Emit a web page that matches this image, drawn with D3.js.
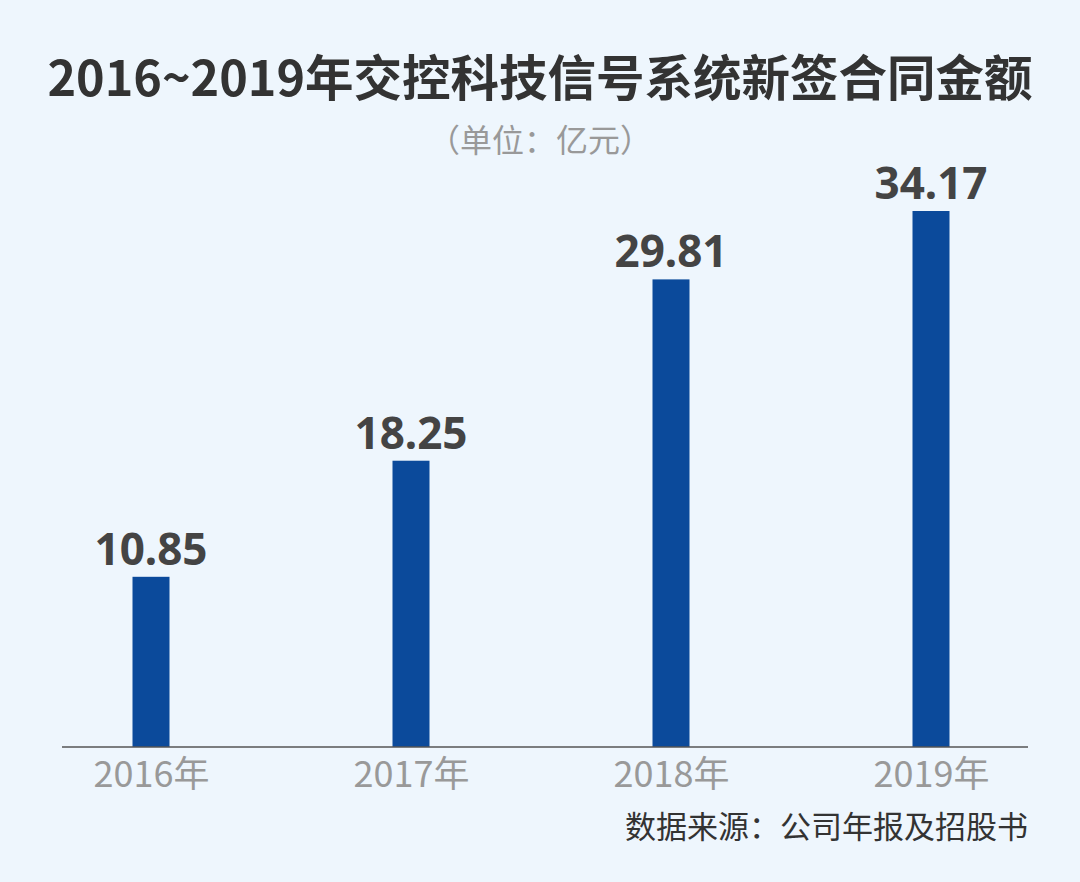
<!DOCTYPE html>
<html><head><meta charset="utf-8">
<script src="https://cdn.jsdelivr.net/npm/d3@7"></script>
<style>body{margin:0;background:#eef6fd;font-family:"Noto Sans CJK SC","Noto Sans",sans-serif}</style>
</head><body><div id="chart"></div>
<script>
var years = ["2016年", "2017年", "2018年", "2019年"];
var values = [10.85, 18.25, 29.81, 34.17];
var labels = ["10.85", "18.25", "29.81", "34.17"];

var svgWidth = 1080, svgHeight = 882;
var svg = d3.select("#chart").append("svg")
    .attr("width", svgWidth).attr("height", svgHeight);
svg.append("rect").attr("width", svgWidth).attr("height", svgHeight).attr("fill", "#eef6fd");

// title
svg.append("text").attr("x", 540).attr("y", 96).attr("text-anchor", "middle")
    .attr("font-size", 48.5).attr("font-weight", "bold").attr("fill", "#333")
    .text("2016~2019年交控科技信号系统新签合同金额");
svg.append("text").attr("x", 540).attr("y", 152).attr("text-anchor", "middle")
    .attr("font-size", 32).attr("fill", "#999")
    .text("（单位：亿元）");

var x = d3.scalePoint().domain(years).range([151, 931]);
var y = d3.scaleLinear().domain([0, 34.17]).range([747, 211]);
var barW = 37;

svg.selectAll(".bar").data(values).enter().append("rect")
    .attr("x", (d, i) => x(years[i]) - barW / 2)
    .attr("y", d => y(d))
    .attr("width", barW)
    .attr("height", d => y(0) - y(d))
    .attr("fill", "#0b4a9b");

svg.selectAll(".val").data(values).enter().append("text")
    .attr("x", (d, i) => x(years[i]))
    .attr("y", d => y(d) - 12)
    .attr("text-anchor", "middle")
    .attr("font-size", 44).attr("font-weight", "bold").attr("fill", "#444")
    .attr("font-family", "'Noto Sans', sans-serif")
    .text((d, i) => labels[i]);

// axis
var axis = svg.append("g").attr("transform", `translate(0, ${y(0)})`)
    .call(d3.axisBottom(x).tickSize(0).tickPadding(14));
axis.select(".domain").remove();
axis.append("line").attr("x1", 62).attr("x2", 1028).attr("stroke", "#555").attr("stroke-width", 1.5);
axis.selectAll(".tick text").attr("font-size", 36).attr("fill", "#999")
    .attr("font-family", "'Noto Sans CJK SC', sans-serif");

svg.append("text").attr("x", 1028).attr("y", 838).attr("text-anchor", "end")
    .attr("font-size", 31).attr("fill", "#333")
    .text("数据来源：公司年报及招股书");
</script></body></html>
